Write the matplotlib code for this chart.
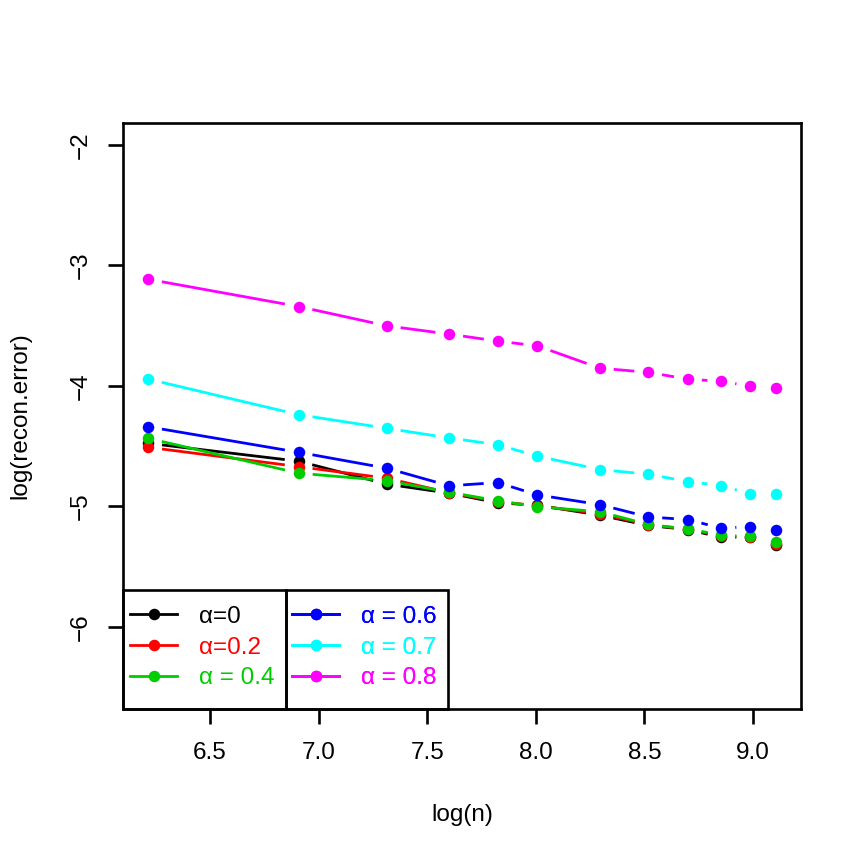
import numpy as np
import matplotlib
matplotlib.use("Agg")
import matplotlib.pyplot as plt
from matplotlib.lines import Line2D
from matplotlib.patches import Rectangle

plt.rcParams['font.family'] = ['Liberation Sans', 'DejaVu Sans']

# ---- data ----
n_values = [500, 1000, 1500, 2000, 2500, 3000, 4000, 5000, 6000, 7000, 8000, 9000]
err_a00 = [-4.476, -4.625, -4.815, -4.890, -4.970, -4.990, -5.072, -5.158, -5.192, -5.257, -5.255, -5.318]
err_a02 = [-4.509, -4.670, -4.766, -4.886, -4.960, -4.995, -5.060, -5.152, -5.188, -5.247, -5.252, -5.308]
err_a04 = [-4.435, -4.724, -4.786, -4.882, -4.953, -5.002, -5.044, -5.149, -5.188, -5.235, -5.249, -5.293]
err_a06 = [-4.339, -4.551, -4.683, -4.829, -4.802, -4.904, -4.985, -5.087, -5.109, -5.181, -5.167, -5.192]
err_a07 = [-3.944, -4.239, -4.352, -4.432, -4.488, -4.583, -4.694, -4.733, -4.794, -4.827, -4.896, -4.896]
err_a08 = [-3.116, -3.342, -3.502, -3.571, -3.629, -3.668, -3.853, -3.888, -3.944, -3.963, -4.002, -4.021]
labels = ["α=0", "α=0.2", "α = 0.4", "α = 0.6", "α = 0.7", "α = 0.8"]
colors = ["#000000", "#FF0000", "#00CD00", "#0000FF", "#00FFFF", "#FF00FF"]
x_ticks = [6.5, 7.0, 7.5, 8.0, 8.5, 9.0]
y_ticks = [-6, -5, -4, -3, -2]
y_range = [-6.5, -2.0]

series = [err_a00, err_a02, err_a04, err_a06, err_a07, err_a08]
x = np.log(np.array(n_values, dtype=float))

W = 863
fig = plt.figure(figsize=(W / 100, W / 100), dpi=100)
ax = fig.add_axes([123 / W, 1 - 709 / W, 678 / W, 586 / W])

xpad = 0.04 * (x.max() - x.min())
ypad = 0.04 * (y_range[1] - y_range[0])
ax.set_xlim(x.min() - xpad, x.max() + xpad)
ax.set_ylim(y_range[0] - ypad, y_range[1] + ypad)

LW = 2.0
MS = 8.3
GAP = 14.0  # pixels, R type="b" gap
inv = ax.transData.inverted()
for ys, c in zip(series, colors):
    pts = ax.transData.transform(np.column_stack([x, ys]))
    for i in range(len(pts) - 1):
        p0, p1 = pts[i], pts[i + 1]
        d = p1 - p0
        L = np.hypot(*d)
        if L > 2 * GAP:
            u = d / L
            seg = inv.transform(np.array([p0 + u * GAP, p1 - u * GAP]))
            ax.plot(seg[:, 0], seg[:, 1], color=c, lw=LW, solid_capstyle='butt')
    ax.plot(x, ys, linestyle='none', marker='o', markersize=MS, color=c,
            markeredgewidth=0)

ax.set_xticks(x_ticks)
ax.set_xticklabels([f"{t:.1f}" for t in x_ticks])
ax.set_yticks(y_ticks)
ax.set_yticklabels([f"\u2212{abs(t)}" for t in y_ticks])
ax.tick_params(axis='both', length=10.8, width=1.9, labelsize=17.5, color='black')
ax.tick_params(axis='x', pad=13)
ax.tick_params(axis='y', pad=11.5, labelrotation=90)
for lab in ax.get_yticklabels():
    lab.set_va('center')
for s in ax.spines.values():
    s.set_linewidth(1.9)

ax.set_xlabel("log(n)", fontsize=17.5)
ax.xaxis.set_label_coords(0.5, (709 - 815) / 586)
ax.xaxis.label.set_va('center')
ax.set_ylabel("log(recon.error)", fontsize=17.5)
ax.yaxis.set_label_coords((20 - 123) / 678, 0.5)
ax.yaxis.label.set_va('center')

# ---- legends (two boxes, R style) ----
handles = [Line2D([], [], color=c, lw=LW, marker='o', markersize=MS,
                  markeredgewidth=0) for c in colors]
box_h = (709 - 590) / 586
b1 = (286 - 123) / 678
b2 = (448 - 123) / 678
for (x0, x1, idx, cx) in [(0.0, b1, [0, 1, 2], (130 - 123) / 678),
                          (b1, b2, [3, 4, 5], (292 - 123) / 678)]:
    ax.add_patch(Rectangle((x0, 0), x1 - x0, box_h, transform=ax.transAxes,
                           fill=False, edgecolor='black', lw=1.9, zorder=5,
                           clip_on=False))
    leg = ax.legend([handles[i] for i in idx], [labels[i] for i in idx],
                    loc='center left', bbox_to_anchor=(cx, (709 - 647.5) / 586),
                    frameon=False, fontsize=17.5, borderpad=0, borderaxespad=0,
                    handlelength=1.95, handletextpad=0.9, labelspacing=0.36,
                    labelcolor='linecolor')
    ax.add_artist(leg)

fig.savefig("out.png", dpi=100, facecolor='white')
